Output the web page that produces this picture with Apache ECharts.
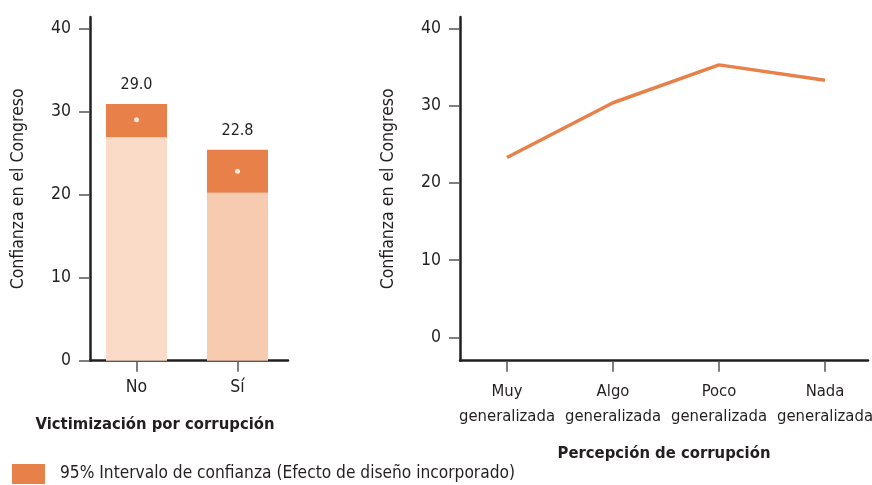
<!DOCTYPE html>
<html><head><meta charset="utf-8">
<script src="https://cdn.jsdelivr.net/npm/echarts@6/dist/echarts.min.js"></script>
<style>html,body{margin:0;padding:0;background:#fff}#c{width:872px;height:485px}</style>
</head><body><div id="c"></div>
<script>
// ---- data ----
const victCategories = ['No', 'Sí'];
const victEstimate = [29.0, 22.8];
const victLower = [26.9, 20.2];
const victUpper = [30.9, 25.4];
const percCategories = ['Muy\ngeneralizada', 'Algo\ngeneralizada', 'Poco\ngeneralizada', 'Nada\ngeneralizada'];
const percValues = [23.3, 30.4, 35.3, 33.3];
const ciName = '95% Intervalo de confianza (Efecto de diseño incorporado)';
const yAxisName = 'Confianza en el Congreso';

// ---- styles ----
const FONT = '"DejaVu Sans Condensed", "Liberation Sans", sans-serif';
const TXT = '#231f20';
const AXIS = '#231f20';
const ORANGE = '#e8804a';
const baseColors = ['#f9dbc7', '#f6cbb0'];
const FS = 17.5;

const axisLineStyle = { show: true, onZero: false, lineStyle: { color: AXIS, width: 2.5 } };
const tickStyle = { show: true, length: 11, interval: 0, lineStyle: { color: '#555', width: 1.5 } };

const chart = echarts.init(document.getElementById('c'), null, { renderer: 'canvas' });
chart.setOption({
  animation: false,
  textStyle: { fontFamily: FONT, color: TXT },
  legend: {
    data: [ciName], left: 7, top: 459, icon: 'rect', itemWidth: 33, itemHeight: 20,
    textStyle: { fontFamily: FONT, fontSize: 17.2, color: TXT, padding: [0, 0, 0, 10] }
  },
  grid: [
    { left: 86, width: 202, top: 28.3, height: 332.4, outerBoundsMode: 'none' },   // 0 left data
    { left: 90, width: 198, top: 17, height: 343.7, outerBoundsMode: 'none' },     // 1 left frame
    { left: 507, width: 318, top: 17, height: 343.7, outerBoundsMode: 'none' },    // 2 right data
    { left: 460, width: 408, top: 17, height: 343.7, outerBoundsMode: 'none' },    // 3 right frame
    { left: 460, width: 408, top: 28.3, height: 309, outerBoundsMode: 'none' },    // 4 right y ticks
    { left: 90, width: 198, top: 28.3, height: 332.4, outerBoundsMode: 'none' }    // 5 left y ticks
  ],
  xAxis: [
    { gridIndex: 0, type: 'category', data: victCategories, axisLine: { show: false, onZero: false },
      axisTick: Object.assign({ alignWithLabel: true }, tickStyle),
      axisLabel: { margin: 18, fontSize: FS, color: TXT, fontFamily: FONT, interval: 0 },
      name: 'Victimización por corrupción', nameLocation: 'middle', nameGap: 56,
      nameTextStyle: { fontFamily: FONT, fontSize: 16.5, fontWeight: 'bold', color: TXT, padding: [0, 64, 0, 0] } },
    { gridIndex: 1, type: 'category', data: victCategories, axisLine: axisLineStyle,
      axisTick: { show: false }, axisLabel: { show: false } },
    { gridIndex: 2, type: 'category', data: percCategories, boundaryGap: false,
      axisLine: { show: false, onZero: false }, axisTick: tickStyle,
      axisLabel: { margin: 19, fontSize: 16.5, lineHeight: 25, color: TXT, fontFamily: FONT, interval: 0 } },
    { gridIndex: 3, type: 'category', data: percCategories, axisLine: axisLineStyle,
      axisTick: { show: false }, axisLabel: { show: false },
      name: 'Percepción de corrupción', nameLocation: 'middle', nameGap: 85,
      nameTextStyle: { fontFamily: FONT, fontSize: 16.5, fontWeight: 'bold', color: TXT } },
    { gridIndex: 4, type: 'category', data: percCategories, show: false },
    { gridIndex: 5, type: 'category', data: victCategories, show: false }
  ],
  yAxis: [
    { gridIndex: 0, type: 'value', min: 0, max: 40, show: false, splitLine: { show: false } },
    { gridIndex: 1, type: 'value', min: 0, max: 40, axisLine: axisLineStyle, axisTick: { show: false },
      axisLabel: { show: false }, splitLine: { show: false },
      name: yAxisName, nameLocation: 'middle', nameGap: 63, nameRotate: 90,
      nameTextStyle: { fontFamily: FONT, fontSize: FS, color: TXT } },
    { gridIndex: 2, type: 'value', min: -3, max: 41.5, show: false, splitLine: { show: false } },
    { gridIndex: 3, type: 'value', min: 0, max: 40, axisLine: axisLineStyle, axisTick: { show: false },
      axisLabel: { show: false }, splitLine: { show: false },
      name: yAxisName, nameLocation: 'middle', nameGap: 63, nameRotate: 90,
      nameTextStyle: { fontFamily: FONT, fontSize: FS, color: TXT } },
    { gridIndex: 4, type: 'value', min: 0, max: 40, interval: 10, axisLine: { show: false },
      axisTick: tickStyle, splitLine: { show: false },
      axisLabel: { margin: 19, fontSize: FS, color: TXT, fontFamily: FONT } },
    { gridIndex: 5, type: 'value', min: 0, max: 40, interval: 10, axisLine: { show: false },
      axisTick: tickStyle, splitLine: { show: false },
      axisLabel: { margin: 19, fontSize: FS, color: TXT, fontFamily: FONT } }
  ],
  series: [
    { type: 'bar', name: 'base', xAxisIndex: 0, yAxisIndex: 0, stack: 'ci', barWidth: 61, silent: true,
      data: victLower.map((v, i) => ({ value: v, itemStyle: { color: baseColors[i] } })) },
    { type: 'bar', name: ciName, xAxisIndex: 0, yAxisIndex: 0, stack: 'ci', barWidth: 61,
      itemStyle: { color: ORANGE },
      data: victUpper.map((v, i) => +(v - victLower[i]).toFixed(2)),
      label: { show: true, position: 'top', distance: 11, fontSize: 16, color: TXT, fontFamily: FONT,
        formatter: p => victEstimate[p.dataIndex].toFixed(1) } },
    { type: 'scatter', name: 'estimate', xAxisIndex: 0, yAxisIndex: 0, symbolSize: 5, z: 5,
      itemStyle: { color: '#fff' }, data: victEstimate },
    { type: 'line', name: 'perc', xAxisIndex: 2, yAxisIndex: 2, data: percValues, symbol: 'none',
      lineStyle: { color: ORANGE, width: 3.5 } }
  ]
});
</script></body></html>
